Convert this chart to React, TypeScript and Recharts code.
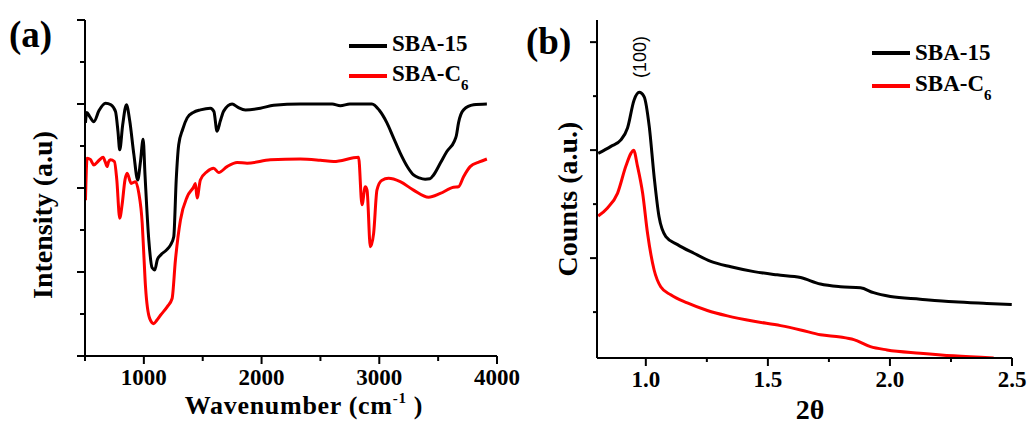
import { Label, Legend, Line, LineChart, XAxis, YAxis } from 'recharts';

// Panel (a) FTIR: [wavenumber cm-1, intensity a.u.]
const ftirSba15: [number, number][] = [
  [504, 5.55], [515, 5.8], [540, 5.7], [575, 5.58], [620, 5.85], [674, 6.02], [720, 5.98],
  [759, 5.82], [780, 5.35], [795, 4.91], [820, 5.5], [852, 5.98], [880, 5.6], [915, 4.8],
  [948, 4.19], [970, 4.6], [994, 5.16], [1010, 4.3], [1042, 2.76], [1070, 2.1], [1093, 2.05],
  [1115, 2.3], [1141, 2.4], [1190, 2.52], [1226, 2.64], [1254, 2.84], [1275, 4.2], [1296, 5.03],
  [1330, 5.4], [1368, 5.67], [1420, 5.8], [1480, 5.86], [1565, 5.9], [1595, 5.82], [1622, 5.35],
  [1650, 5.6], [1678, 5.83], [1750, 6.0], [1800, 5.92], [1863, 5.86], [1990, 5.9], [2103, 5.97],
  [2329, 6.0], [2600, 6.0], [2669, 5.96], [2750, 6.0], [2938, 6.0], [3000, 5.85], [3065, 5.55],
  [3120, 5.2], [3178, 4.83], [3240, 4.5], [3291, 4.31], [3340, 4.24], [3390, 4.21], [3430, 4.22],
  [3461, 4.31], [3520, 4.6], [3574, 4.87], [3637, 5.11], [3655, 5.25], [3673, 5.55], [3716, 5.86],
  [3801, 5.98], [3914, 6.0],
];

const ftirSbaC6: [number, number][] = [
  [504, 3.71], [518, 4.71], [545, 4.68], [575, 4.55], [620, 4.66], [654, 4.73], [672, 4.62],
  [688, 4.51], [700, 4.62], [716, 4.67], [750, 4.63], [770, 4.2], [795, 3.28], [815, 3.6],
  [840, 4.2], [858, 4.35], [892, 4.11], [929, 4.15], [957, 3.88], [986, 3.16], [1000, 2.4],
  [1014, 1.65], [1050, 0.89], [1084, 0.77], [1110, 0.85], [1141, 0.97], [1198, 1.17],
  [1240, 1.37], [1268, 2.28], [1311, 3.24], [1368, 3.79], [1424, 4.03], [1438, 4.11],
  [1452, 3.76], [1480, 4.19], [1537, 4.39], [1593, 4.47], [1636, 4.37], [1707, 4.51],
  [1792, 4.61], [1877, 4.59], [2075, 4.67], [2329, 4.69], [2499, 4.66], [2612, 4.63],
  [2824, 4.73], [2853, 3.6], [2881, 4.03], [2896, 3.95], [2924, 2.6], [2952, 2.92],
  [2980, 3.95], [3020, 4.18], [3079, 4.23], [3178, 4.15], [3291, 3.95], [3419, 3.78],
  [3518, 3.87], [3631, 4.02], [3673, 4.03], [3716, 4.27], [3772, 4.51], [3850, 4.62], [3914, 4.69],
];

const ftirXTicks = [500, 1000, 1500, 2000, 2500, 3000, 3500, 4000];
const ftirYTicks = [0, 1, 2, 3, 4, 5, 6, 7, 8];

// Panel (b) XRD: [2theta, counts a.u.]
const xrdSba15: [number, number][] = [
  [0.805, 3.94], [0.857, 4.07], [0.898, 4.19], [0.925, 4.41], [0.952, 4.93], [0.973, 5.07],
  [0.993, 4.99], [1.014, 4.44], [1.034, 3.51], [1.054, 2.77], [1.082, 2.4], [1.13, 2.25],
  [1.197, 2.09], [1.266, 1.94], [1.348, 1.84], [1.443, 1.75], [1.538, 1.69], [1.634, 1.64],
  [1.715, 1.52], [1.797, 1.47], [1.879, 1.45], [1.933, 1.36], [2.002, 1.29], [2.124, 1.24],
  [2.261, 1.19], [2.397, 1.16], [2.499, 1.14],
];

const xrdSbaC6: [number, number][] = [
  [0.805, 2.78], [0.843, 2.93], [0.884, 3.2], [0.918, 3.7], [0.939, 3.94], [0.95, 4.0],
  [0.966, 3.7], [0.987, 3.2], [1.007, 2.46], [1.034, 1.78], [1.061, 1.47], [1.102, 1.32],
  [1.17, 1.17], [1.252, 1.03], [1.334, 0.93], [1.443, 0.83], [1.552, 0.75], [1.634, 0.67],
  [1.715, 0.58], [1.797, 0.54], [1.852, 0.49], [1.92, 0.36], [1.988, 0.3], [2.124, 0.24],
  [2.261, 0.19], [2.425, 0.15],
];

const xrdXTicks = [1.0, 1.25, 1.5, 1.75, 2.0, 2.25, 2.5];
const xrdYTicks = [1, 2, 3, 4, 5, 6];

const toPoints = (arr: [number, number][]) => arr.map(([x, y]) => ({ x, y }));

const SERIF = "'Liberation Serif', 'Times New Roman', Times, serif";
const INK = '#000';

// tick drawers: with tickSize/tickMargin 0 the props x/y sit on the axis line
const bottomTick =
  (isMajor: (v: number) => boolean, fmt: (v: number) => string | null, majorLen: number, minorLen: number) =>
  (props: any) => {
    const { x, y, payload } = props;
    const v = payload.value as number;
    const major = isMajor(v);
    const txt = major ? fmt(v) : null;
    return (
      <g>
        <line x1={x} x2={x} y1={y} y2={y + (major ? majorLen : minorLen)} stroke={INK} strokeWidth={2} />
        {txt && (
          <text x={x} y={y + 29} textAnchor='middle' fontFamily={SERIF} fontWeight='bold' fontSize={23} fill={INK}>
            {txt}
          </text>
        )}
      </g>
    );
  };

const leftTick = (isMajor: (v: number) => boolean, majorLen: number, minorLen: number) => (props: any) => {
  const { x, y, payload } = props;
  const len = isMajor(payload.value) ? majorLen : minorLen;
  return <line x1={x - len} x2={x} y1={y} y2={y} stroke={INK} strokeWidth={2} />;
};

function LegendBox({ lineY, textY }: { lineY: [number, number]; textY: [number, number] }) {
  return (
    <svg width={150} height={80} style={{ overflow: 'visible' }}>
      <line x1={0} x2={38} y1={lineY[0]} y2={lineY[0]} stroke='#000' strokeWidth={4} />
      <text x={43} y={textY[0]} fontFamily={SERIF} fontWeight='bold' fontSize={23} fill={INK}>
        SBA-15
      </text>
      <line x1={0} x2={38} y1={lineY[1]} y2={lineY[1]} stroke='#ff0000' strokeWidth={4} />
      <text x={43} y={textY[1]} fontFamily={SERIF} fontWeight='bold' fontSize={23} fill={INK}>
        SBA-C
        <tspan fontSize={15} dy={9}>
          6
        </tspan>
      </text>
    </svg>
  );
}

function FtirPanel() {
  return (
    <LineChart width={520} height={424} margin={{ top: 20, right: 23, left: 0, bottom: 0 }}>
      <XAxis
        type='number'
        dataKey='x'
        domain={[500, 4000]}
        ticks={ftirXTicks}
        interval={0}
        height={68}
        tickSize={0}
        tickMargin={0}
        tickLine={false}
        allowDataOverflow
        axisLine={{ stroke: INK, strokeWidth: 2 }}
        tick={bottomTick((v) => v % 1000 === 0, (v) => String(v), 8, 5)}
      >
        <Label
          content={() => (
            <text
              x={304}
              y={414}
              textAnchor='middle'
              fontFamily={SERIF}
              fontWeight='bold'
              fontSize={26}
              letterSpacing={0.7}
              fill={INK}
            >
              Wavenumber (cm
              <tspan fontSize={15} dy={-11}>
                -1
              </tspan>
              <tspan dy={11}> )</tspan>
            </text>
          )}
        />
      </XAxis>
      <YAxis
        type='number'
        domain={[0, 8]}
        ticks={ftirYTicks}
        interval={0}
        width={85}
        tickSize={0}
        tickMargin={0}
        tickLine={false}
        allowDataOverflow
        axisLine={{ stroke: INK, strokeWidth: 2 }}
        tick={leftTick((v) => v % 2 === 0, 8, 5)}
      >
        <Label
          content={() => (
            <text
              x={52}
              y={215}
              transform='rotate(-90 52 215)'
              textAnchor='middle'
              fontFamily={SERIF}
              fontWeight='bold'
              fontSize={28}
              fill={INK}
            >
              Intensity (a.u)
            </text>
          )}
        />
      </YAxis>
      <Legend
        verticalAlign='middle'
        align='center'
        wrapperStyle={{ left: 349, top: 26, width: 150 }}
        content={() => <LegendBox lineY={[20, 50]} textY={[24.5, 55]} />}
      />
      <Line
        data={toPoints(ftirSba15)}
        dataKey='y'
        type='monotone'
        stroke='#000'
        strokeWidth={3}
        dot={false}
        isAnimationActive={false}
      />
      <Line
        data={toPoints(ftirSbaC6)}
        dataKey='y'
        type='monotone'
        stroke='#ff0000'
        strokeWidth={3}
        dot={false}
        isAnimationActive={false}
      />
    </LineChart>
  );
}

function XrdPanel() {
  return (
    <LineChart width={509} height={424} margin={{ top: 20, right: 17, left: 0, bottom: 0 }}>
      <XAxis
        type='number'
        dataKey='x'
        domain={[0.8, 2.5]}
        ticks={xrdXTicks}
        interval={0}
        height={66}
        tickSize={0}
        tickMargin={0}
        tickLine={false}
        allowDataOverflow
        axisLine={{ stroke: INK, strokeWidth: 2 }}
        tick={bottomTick((v) => Math.abs(v * 2 - Math.round(v * 2)) < 1e-6, (v) => v.toFixed(1), 8, 4)}
      >
        <Label
          content={() => (
            <text x={290} y={419} textAnchor='middle' fontFamily={SERIF} fontWeight='bold' fontSize={28} fill={INK}>
              2θ
            </text>
          )}
        />
      </XAxis>
      <YAxis
        type='number'
        domain={[0.15, 6.41]}
        ticks={xrdYTicks}
        interval={0}
        width={77}
        tickSize={0}
        tickMargin={0}
        tickLine={false}
        allowDataOverflow
        axisLine={{ stroke: INK, strokeWidth: 2 }}
        tick={leftTick((v) => v % 2 === 0, 7, 4)}
      >
        <Label
          content={() => (
            <text
              x={57}
              y={199}
              transform='rotate(-90 57 199)'
              textAnchor='middle'
              fontFamily={SERIF}
              fontWeight='bold'
              fontSize={28}
              fill={INK}
            >
              Counts (a.u.)
            </text>
          )}
        />
      </YAxis>
      <Legend
        verticalAlign='middle'
        align='center'
        wrapperStyle={{ left: 352, top: 33, width: 150 }}
        content={() => <LegendBox lineY={[20, 53]} textY={[27, 57.5]} />}
      />
      <Line
        data={toPoints(xrdSba15)}
        dataKey='y'
        type='monotone'
        stroke='#000'
        strokeWidth={3}
        dot={false}
        isAnimationActive={false}
      />
      <Line
        data={toPoints(xrdSbaC6)}
        dataKey='y'
        type='monotone'
        stroke='#ff0000'
        strokeWidth={3}
        dot={false}
        isAnimationActive={false}
      />
    </LineChart>
  );
}

export default function App() {
  const tag = { position: 'absolute' as const, fontFamily: SERIF, fontWeight: 'bold', fontSize: 37, lineHeight: 1 };
  return (
    <div style={{ position: 'absolute', left: 0, top: 0, width: 1029, height: 424, background: '#fff', overflow: 'hidden' }}>
      <div style={{ position: 'absolute', left: 0, top: 0 }}>
        <FtirPanel />
      </div>
      <div style={{ position: 'absolute', left: 520, top: 0 }}>
        <XrdPanel />
      </div>
      <div style={{ ...tag, left: 9, top: 16 }}>(a)</div>
      <div style={{ ...tag, left: 526, top: 23 }}>(b)</div>
      <svg width={1029} height={424} style={{ position: 'absolute', left: 0, top: 0, pointerEvents: 'none' }}>
        <text
          x={646}
          y={57}
          transform='rotate(-90 646 57)'
          textAnchor='middle'
          fontFamily="'Liberation Sans', Arial, sans-serif"
          fontSize={18}
          fill='#000'
        >
          (100)
        </text>
      </svg>
    </div>
  );
}
